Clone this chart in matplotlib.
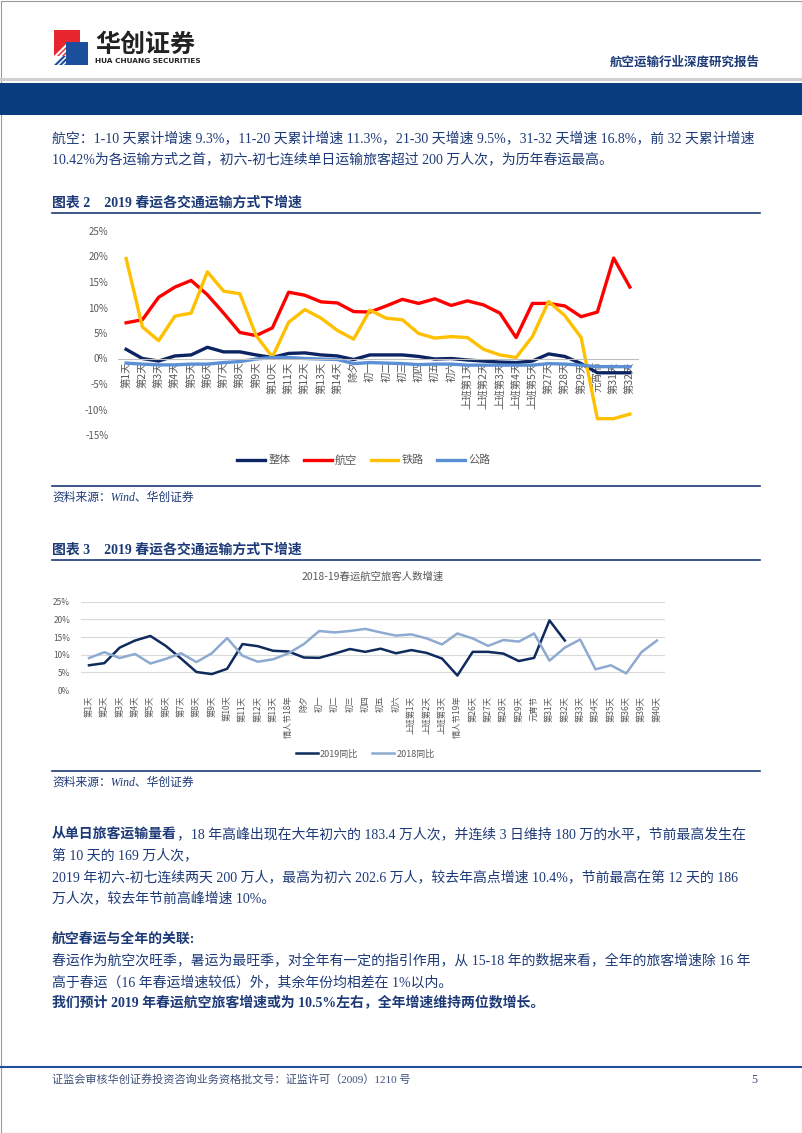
import matplotlib
matplotlib.use('Agg')
import matplotlib.pyplot as plt
from matplotlib.patches import Rectangle, Polygon
import numpy as np

plt.rcParams['font.family'] = ['Noto Sans CJK SC', 'DejaVu Sans']

W, H = 802, 1133

# ---- 图表 2 data ----
days_a = ['第1天', '第2天', '第3天', '第4天', '第5天', '第6天', '第7天', '第8天', '第9天', '第10天',
          '第11天', '第12天', '第13天', '第14天', '除夕', '初一', '初二', '初三', '初四', '初五', '初六',
          '上班第1天', '上班第2天', '上班第3天', '上班第4天', '上班第5天',
          '第27天', '第28天', '第29天', '元宵节', '第31天', '第32天']
total = [1.8, 0.0, -0.5, 0.5, 0.7, 2.2, 1.3, 1.3, 0.7, 0.2, 1.0, 1.1, 0.7, 0.5, -0.2, 0.7,
         0.7, 0.7, 0.4, -0.1, 0.0, -0.3, -0.5, -0.7, -0.8, -0.5, 0.9, 0.4, -1.0, -2.8, -2.8, -2.8]
air = [7.0, 7.6, 12.0, 14.0, 15.3, 12.5, 8.9, 5.1, 4.5, 6.0, 13.0, 12.4, 11.1, 10.9, 9.2, 9.1,
       10.3, 11.6, 10.8, 11.7, 10.4, 11.3, 10.5, 8.9, 4.1, 10.8, 10.8, 10.3, 8.2, 9.1, 19.7, 14.0]
rail = [19.6, 6.2, 3.5, 8.3, 8.9, 17.0, 13.2, 12.7, 4.5, 0.3, 7.1, 9.6, 7.9, 5.5, 3.8, 9.5,
        7.9, 7.6, 4.9, 4.0, 4.3, 4.1, 1.8, 0.7, 0.2, 4.3, 11.2, 8.4, 4.1, -11.8, -11.8, -10.9]
road = [-0.9, -1.1, -1.25, -1.25, -1.1, -1.1, -0.8, -0.6, -0.1, 0.2, 0.2, 0.0, -0.1, -0.2, -1.0,
        -0.8, -0.9, -1.0, -1.2, -1.1, -1.1, -1.3, -1.3, -1.3, -1.3, -1.3, -1.0, -1.1, -1.3, -1.6,
        -1.6, -1.6]
series_a = [('整体', total, '#0c2461'), ('航空', air, '#ff0000'),
            ('铁路', rail, '#ffc000'), ('公路', road, '#5b8fd6')]
yticks_a = [-15, -10, -5, 0, 5, 10, 15, 20, 25]

# ---- 图表 3 data ----
days_b = ['第1天', '第2天', '第3天', '第4天', '第5天', '第6天', '第7天', '第8天', '第9天', '第10天',
          '第11天', '第12天', '第13天', '情人节18年', '除夕', '初一', '初二', '初三', '初四', '初五',
          '初六', '上班第1天', '上班第2天', '上班第3天', '情人节19年', '第26天', '第27天', '第28天',
          '第29天', '元宵节', '第31天', '第32天', '第33天', '第34天', '第35天', '第36天',
          '第39天', '第40天']
y2019 = air + [np.nan] * 6
y2018 = [9.05, 10.7, 9.05, 10.2, 7.5, 8.8, 10.4, 7.9, 10.4, 14.7, 9.7, 8.0, 8.7, 10.4, 13.0,
         16.7, 16.3, 16.7, 17.3, 16.3, 15.4, 15.75, 14.6, 12.9, 16.0, 14.6, 12.5, 14.15, 13.7,
         16.0, 8.3, 12.0, 14.3, 5.85, 7.0, 4.7, 10.75, 14.0]
yticks_b = [0, 5, 10, 15, 20, 25]

NAVY = '#1d3a78'
GRAY = '#595959'
SERIF = ['Liberation Serif', 'Noto Sans CJK SC']
BODY = 10

fig = plt.figure(figsize=(W / 100, H / 100), dpi=100)
bg = fig.add_axes([0, 0, 1, 1])
bg.set_xlim(0, W)
bg.set_ylim(H, 0)
bg.axis('off')


def txt(x, y, s, size, color=NAVY, weight='normal', ha='left', style='normal', family=SERIF):
    return bg.text(x, y, s, fontsize=size, color=color, fontweight=weight, ha=ha, va='center',
                   fontstyle=style, family=family)


# page frame
bg.add_patch(Rectangle((0.5, 0.5), W - 1, H - 1, fill=False, ec='#9a9a9a', lw=0.8))

# header / logo
bg.add_patch(Rectangle((54, 30), 26, 26, color='#e8262d', lw=0))
for k in range(6):
    bg.add_patch(Polygon([(54 + k * 5, 56), (57 + k * 5, 56), (57 + k * 5 + 12, 44), (54 + k * 5 + 12, 44)],
                         closed=True, color='white', lw=0))
bg.add_patch(Rectangle((66, 42), 22, 23, color='#1b4f9c', lw=0))
for k in range(4):
    bg.add_patch(Polygon([(54 + k * 5, 65), (57 + k * 5, 65), (66 + k * 5, 56), (63 + k * 5, 56)],
                         closed=True, color='#1b4f9c', lw=0))
txt(95, 45, '华创证券', 18, color='#222222', weight='bold', family=['Noto Sans CJK SC'])
txt(95, 61, 'HUA CHUANG SECURITIES', 5.3, color='#222222', weight='bold', family=['DejaVu Sans'])
txt(760, 63, '航空运输行业深度研究报告', 9, weight='bold', ha='right')
bg.add_patch(Rectangle((0, 78), W, 2.5, color='#cfcfcf', lw=0))
bg.add_patch(Rectangle((0, 83), W, 32, color='#0a3d7f', lw=0))

# intro text
txt(52, 138, '航空：1-10 天累计增速 9.3%，11-20 天累计增速 11.3%，21-30 天增速 9.5%，31-32 天增速 16.8%，前 32 天累计增速', BODY)
txt(52, 159, '10.42%为各运输方式之首，初六-初七连续单日运输旅客超过 200 万人次，为历年春运最高。', BODY)

# captions and rules
txt(52, 203, '图表 2    2019 春运各交通运输方式下增速', 10, weight='bold')
bg.plot([52, 760], [212.5, 212.5], color=NAVY, lw=1.2)
bg.plot([52, 760], [485.5, 485.5], color=NAVY, lw=1.2)
txt(52, 498, '资料来源：Wind、华创证券', 8.5, style='italic')
txt(52, 550, '图表 3    2019 春运各交通运输方式下增速', 10, weight='bold')
bg.plot([52, 760], [559.5, 559.5], color=NAVY, lw=1.2)
bg.plot([52, 760], [771, 771], color=NAVY, lw=1.2)
txt(52, 783, '资料来源：Wind、华创证券', 8.5, style='italic')

# ---- chart 2 ----
ax = fig.add_axes([118 / W, 1 - 435 / H, 520 / W, 204 / H])
for s in ['top', 'right', 'left']:
    ax.spines[s].set_visible(False)
ax.spines['bottom'].set_position(('data', 0))
ax.spines['bottom'].set_color('#bfbfbf')
ax.spines['bottom'].set_linewidth(0.8)
x_a = np.arange(len(days_a))
for name, vals, col in series_a:
    ax.plot(x_a, vals, color=col, lw=2.4, label=name)
ax.set_xlim(-0.5, len(days_a) - 0.5)
ax.set_ylim(-15, 25)
ax.set_yticks(yticks_a)
ax.set_yticklabels([f'{v}%' for v in yticks_a])
ax.set_xticks(x_a)
ax.set_xticklabels(days_a)
ax.tick_params(axis='both', length=0, colors=GRAY)
ax.tick_params(axis='x', pad=2, labelsize=7.5, labelrotation=90)
ax.tick_params(axis='y', pad=7, labelsize=7)
ax.patch.set_alpha(0)
ax.legend(loc='center', bbox_to_anchor=(364 / W, 1 - 460 / H), bbox_transform=fig.transFigure,
          ncol=4, frameon=False, fontsize=8, handlelength=2.5, handletextpad=0.3,
          columnspacing=1.2, labelcolor=GRAY)

# ---- chart 3 ----
ax2 = fig.add_axes([81.3 / W, 1 - 690 / H, 583.3 / W, 88.3 / H])
x_b = np.arange(len(days_b))
ax2.plot(x_b, y2019, color='#0f2a5c', lw=1.8, label='2019同比')
ax2.plot(x_b, y2018, color='#8eaad0', lw=1.8, label='2018同比')
ax2.set_xlim(-0.5, len(days_b) - 0.5)
ax2.set_ylim(0, 25)
ax2.set_yticks(yticks_b)
ax2.set_yticklabels([f'{v}%' for v in yticks_b])
ax2.set_xticks(x_b)
ax2.set_xticklabels(days_b, rotation=90, va='top', ha='center')
ax2.grid(axis='y', color='#d9d9d9', lw=0.8)
ax2.set_axisbelow(True)
for s in ax2.spines.values():
    s.set_visible(False)
ax2.tick_params(axis='both', length=0, colors=GRAY, labelsize=6)
ax2.tick_params(axis='x', pad=4)
ax2.tick_params(axis='y', pad=8)
ax2.patch.set_alpha(0)
ax2.set_title('2018-19春运航空旅客人数增速', fontsize=7.5, color=GRAY, pad=16)
ax2.legend(loc='center', bbox_to_anchor=(365 / W, 1 - 754 / H), bbox_transform=fig.transFigure,
           ncol=2, frameon=False, fontsize=6.5, handlelength=2.5, handletextpad=0.2,
           columnspacing=1.5, labelcolor=GRAY)

# ---- lower text ----
fig.canvas.draw()
r = fig.canvas.get_renderer()
b = txt(52, 834, '从单日旅客运输量看', BODY, weight='bold')
wb = b.get_window_extent(r).width
txt(52 + wb, 834, '，18 年高峰出现在大年初六的 183.4 万人次，并连续 3 日维持 180 万的水平，节前最高发生在', BODY)
txt(52, 855, '第 10 天的 169 万人次，', BODY)
txt(52, 877, '2019 年初六-初七连续两天 200 万人，最高为初六 202.6 万人，较去年高点增速 10.4%，节前最高在第 12 天的 186', BODY)
txt(52, 898, '万人次，较去年节前高峰增速 10%。', BODY)
txt(52, 939, '航空春运与全年的关联:', BODY, weight='bold')
txt(52, 960, '春运作为航空次旺季，暑运为最旺季，对全年有一定的指引作用，从 15-18 年的数据来看，全年的旅客增速除 16 年', BODY)
txt(52, 982, '高于春运（16 年春运增速较低）外，其余年份均相差在 1%以内。', BODY)
txt(52, 1003, '我们预计 2019 年春运航空旅客增速或为 10.5%左右，全年增速维持两位数增长。', BODY, weight='bold')

# footer
bg.plot([0, W], [1067, 1067], color='#1f4e9a', lw=1.5)
txt(52, 1080, '证监会审核华创证券投资咨询业务资格批文号：证监许可（2009）1210 号', 8, color='#3b4f7a')
txt(757, 1080, '5', 8.5, color='#3b4f7a', ha='right')

fig.savefig('out.png', dpi=100)
